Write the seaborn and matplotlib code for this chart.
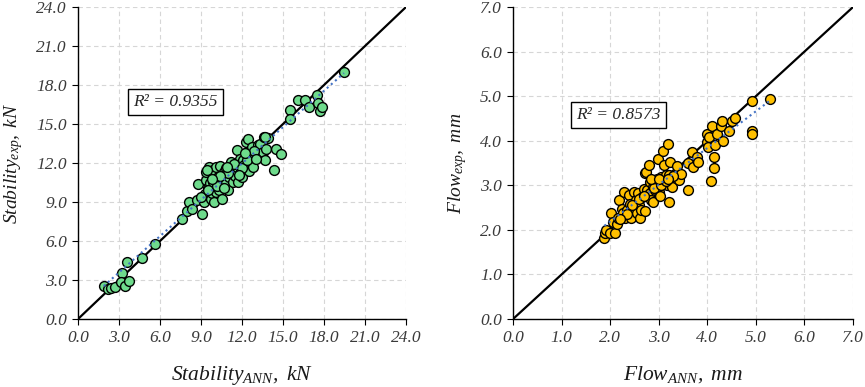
"""
Measured vs. ANN-predicted Marshall stability and flow.
"""
import numpy as np
import seaborn as sns
import matplotlib.pyplot as plt

# Stability (kN): ANN prediction vs experiment
stab_ann = [1.88, 2.2, 2.44, 2.69, 3.25, 3.17, 3.42, 3.61, 3.73, 4.71, 5.62,
            7.59, 8.0, 8.1, 8.37, 8.67, 8.79, 9.08, 9.23, 9.28, 9.33, 9.35, 9.52,
            9.59, 9.64, 9.72, 9.77, 9.84, 9.94, 9.96, 10.01, 10.08, 10.13, 10.25,
            10.33, 10.42, 10.5, 10.57, 10.67, 10.82, 10.86, 10.99, 11.06, 11.16,
            11.23, 11.35, 11.47, 11.6, 11.65, 11.72, 11.84, 11.89, 11.99, 12.04,
            12.16, 12.26, 12.33, 12.45, 12.52, 12.62, 12.7, 12.82, 12.87, 13.06,
            13.18, 13.31, 13.43, 13.55, 13.62, 13.67, 13.79, 13.92, 14.48, 14.33,
            14.82, 15.5, 15.5, 16.11, 16.6, 16.87, 17.48, 17.53, 17.7, 17.82, 19.46,
            13.68, 9.41, 9.9, 9.0, 9.5, 10.2, 10.7, 11.0, 11.4, 12.0, 12.4, 12.9,
            10.4, 9.8, 11.8, 12.2, 13.0, 10.9]
stab_exp = [2.56, 2.28, 2.36, 2.48, 3.56, 2.87, 2.54, 4.41, 2.95, 4.66, 5.76,
            7.68, 8.3, 9.02, 8.5, 9.14, 10.35, 8.09, 9.02, 9.58, 10.68, 11.32, 10.04,
            11.71, 10.48, 9.2, 9.66, 11.45, 8.97, 11.14, 10.43, 9.78, 11.71, 10.94,
            9.96, 11.76, 9.2, 10.68, 11.32, 11.58, 10.48, 9.91, 10.94, 12.09,
            11.45, 10.55, 10.99, 12.99, 11.71, 10.55, 12.32, 11.4, 10.94, 12.22,
            11.83, 13.63, 12.86, 13.88, 11.37, 12.47, 13.24, 11.71, 12.6, 12.99,
            13.37, 13.5, 12.47, 12.86, 14.01, 12.22, 13.11, 13.96, 13.06, 11.45,
            12.68, 16.11, 15.39, 16.88, 16.88, 16.32, 17.26, 16.62, 15.98, 16.32, 19.0,
            14.0, 11.46, 10.56, 9.4, 9.9, 10.2, 10.1, 11.2, 11.9, 11.6, 12.2, 12.9,
            11.0, 10.8, 11.1, 12.8, 12.3, 11.7]

# Flow (mm): ANN prediction vs experiment
flow_ann = [1.88, 1.9, 1.92, 2.0, 2.02, 2.05, 2.1, 2.15, 2.17, 2.19, 2.24, 2.26,
            2.29, 2.31, 2.34, 2.38, 2.4, 2.42, 2.47, 2.5, 2.53, 2.55, 2.58, 2.6,
            2.62, 2.64, 2.66, 2.7, 2.71, 2.72, 2.73, 2.75, 2.77, 2.79, 2.81, 2.82,
            2.84, 2.88, 2.89, 2.92, 2.96, 2.99, 3.0, 3.03, 3.04, 3.08, 3.1, 3.11,
            3.14, 3.16, 3.2, 3.21, 3.21, 3.23, 3.25, 3.28, 3.34, 3.38, 3.42, 3.46,
            3.61, 3.61, 3.68, 3.7, 3.78, 3.8, 3.99, 4.0, 4.01, 4.03, 4.08, 4.1,
            4.14, 4.14, 4.16, 4.19, 4.29, 4.3, 4.32, 4.44, 4.5, 4.57, 4.92, 4.92,
            4.92, 5.29, 2.45, 2.6, 2.7, 2.9, 3.05, 3.15, 3.3, 2.35, 2.2, 2.85,
            3.0, 3.2]
flow_exp = [1.81, 1.92, 1.99, 1.92, 2.37, 2.18, 1.93, 2.14, 2.26, 2.67, 2.46, 2.37,
            2.85, 2.26, 2.44, 2.78, 2.59, 2.26, 2.44, 2.85, 2.67, 2.37, 2.82, 2.55,
            2.26, 2.44, 2.74, 2.91, 3.28, 2.43, 3.3, 2.89, 2.78, 3.45, 3.08, 2.82,
            2.67, 2.96, 2.63, 2.89, 3.14, 3.6, 2.85, 2.76, 3.19, 3.76, 3.08, 3.45,
            3.23, 3.0, 3.92, 3.23, 2.63, 3.53, 3.11, 2.96, 3.26, 3.44, 3.11, 3.26,
            2.89, 3.49, 3.75, 3.41, 3.64, 3.53, 4.16, 3.97, 3.86, 4.08, 3.09, 4.32,
            3.39, 3.64, 3.9, 4.16, 4.33, 4.44, 4.0, 4.21, 4.44, 4.5, 4.89, 4.21,
            4.14, 4.94, 2.55, 2.7, 2.75, 2.95, 3.0, 3.1, 3.2, 2.35, 2.25, 3.15,
            3.15, 3.15]

r2_labels = ['R² = 0.9355', 'R² = 0.8573']

sns.set_style('white')
plt.rcParams['font.family'] = ['Liberation Serif', 'DejaVu Serif']
plt.rcParams['mathtext.fontset'] = 'custom'
plt.rcParams['mathtext.it'] = 'Liberation Serif:italic'
plt.rcParams['mathtext.rm'] = 'Liberation Serif:italic'

fig = plt.figure(figsize=(8.65, 3.87), dpi=100)
ax1 = fig.add_axes([0.0902, 0.1757, 0.3792, 0.8062])
ax2 = fig.add_axes([0.5931, 0.1757, 0.3931, 0.8062])


def style_panel(ax, x, y, lim, step, color, xlab, ylab, r2, box_pos):
    ax.plot([0, lim], [0, lim], color='black', lw=1.6, zorder=2)
    sns.regplot(x=np.array(x), y=np.array(y), ax=ax, scatter=False, ci=None,
                line_kws=dict(color='#4472C4', lw=1.5, ls=':', zorder=4))
    sns.scatterplot(x=x, y=y, ax=ax, color=color, edgecolor='black',
                    linewidth=1.0, s=50, zorder=3)
    ticks = np.arange(0, lim + step / 2, step)
    ax.set_xlim(0, lim)
    ax.set_ylim(0, lim)
    ax.set_xticks(ticks)
    ax.set_yticks(ticks)
    ax.set_xticklabels([f'{t:.1f}' for t in ticks], fontstyle='italic', fontsize=12.5)
    ax.set_yticklabels([f'{t:.1f}' for t in ticks], fontstyle='italic', fontsize=12.5)
    ax.grid(True, ls=(0, (4, 3)), color='#d6d6d6', lw=0.8)
    ax.set_axisbelow(True)
    for s in ['top', 'right']:
        ax.spines[s].set_visible(False)
    for s in ['left', 'bottom']:
        ax.spines[s].set_color('black')
        ax.spines[s].set_linewidth(1.0)
    ax.tick_params(axis='both', direction='out', length=4, width=0.8,
                   color='black', labelcolor='#3a3a3a', pad=4, left=True, bottom=True)
    ax.set_xlabel(xlab, fontsize=15.5, labelpad=13, color='#1a1a1a')
    ax.set_ylabel(ylab, fontsize=14, labelpad=8, color='#1a1a1a')
    ax.text(box_pos[0], box_pos[1], r2, transform=ax.transAxes, fontsize=12.5,
            fontstyle='italic', ha='center', va='center',
            bbox=dict(boxstyle='square,pad=0.3', fc='white', ec='black', lw=1.0))


style_panel(ax1, stab_ann, stab_exp, 24, 3, '#6EDB8C',
            r'$Stability_{ANN},\ kN$', r'$Stability_{exp},\ kN$',
            r2_labels[0], (0.296, 0.695))
style_panel(ax2, flow_ann, flow_exp, 7, 1, '#FFC000',
            r'$Flow_{ANN},\ mm$', r'$Flow_{exp},\ mm$',
            r2_labels[1], (0.309, 0.654))

fig.savefig('out.png', dpi=100)
plt.close(fig)
